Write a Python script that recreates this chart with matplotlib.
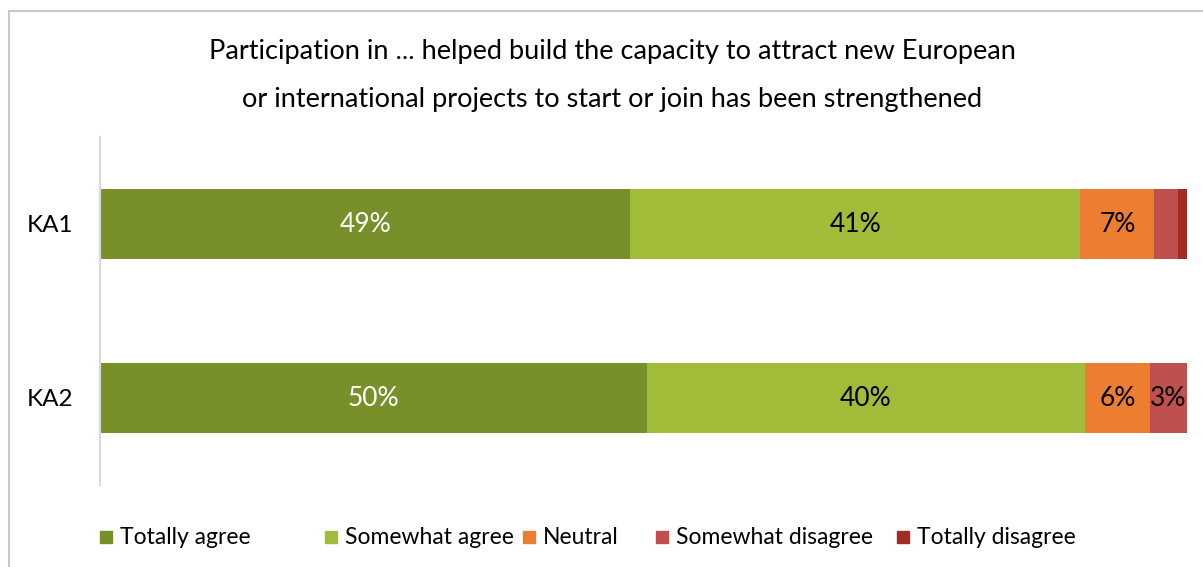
import matplotlib.pyplot as plt
from matplotlib.patches import Rectangle
import numpy as np

plt.rcParams['font.family'] = ['Lato', 'DejaVu Sans']

groups = ["KA1", "KA2"]
answers = ["Totally agree", "Somewhat agree", "Neutral",
           "Somewhat disagree", "Totally disagree"]
ka1 = [48.8, 41.4, 6.8, 2.2, 0.8]
ka2 = [50.3, 40.3, 6.0, 3.4, 0.0]
colors = ["#77902A", "#A0BC38", "#ED7D31", "#C0504D", "#A22B24"]

# left edge of each legend key, in pixels
key_x = [100, 325, 523, 656, 897]


def main():
    fig = plt.figure(figsize=(12.03, 5.67), dpi=100)
    W, H = 1203, 567
    ax = fig.add_axes([100 / W, 1 - 485 / H, 1087 / W, 348 / H])

    # chart frame, runs off the right and bottom edges
    fig.patches.append(Rectangle((9 / W, -0.1), 1.2, 1.1 - 11 / H,
                                 transform=fig.transFigure, fill=False,
                                 edgecolor="#C8C8C8", linewidth=1.5))

    data = np.array([ka1, ka2])
    y = np.arange(len(groups))
    left = np.zeros(len(groups))
    for j, name in enumerate(answers):
        vals = data[:, j]
        bars = ax.barh(y, vals, left=left, height=0.4, color=colors[j],
                       label=name)
        for k, b in enumerate(bars):
            v = vals[k]
            if round(v) >= 3:
                ax.text(left[k] + v / 2, y[k], f"{v:.0f}%",
                        ha="center", va="center", fontsize=19,
                        color="white" if j == 0 else "black")
        left += vals

    ax.set_xlim(0, 100)
    ax.set_ylim(1.5, -0.5)
    ax.set_yticks(y)
    ax.set_yticklabels(groups, fontsize=17.5)
    ax.tick_params(axis="y", length=0, pad=19.5)
    ax.set_xticks([])
    for s in ["top", "right", "bottom"]:
        ax.spines[s].set_visible(False)
    ax.spines["left"].set_color("#D9D9D9")
    ax.spines["left"].set_linewidth(1.5)

    fig.text(612 / W, 1 - 52 / H,
             "Participation in ... helped build the capacity to attract new European",
             ha="center", va="center", fontsize=19.5)
    fig.text(612 / W, 1 - 100 / H,
             "or international projects to start or join has been strengthened",
             ha="center", va="center", fontsize=19.5)

    # legend keys and labels
    for x0, name, c in zip(key_x, answers, colors):
        fig.patches.append(Rectangle((x0 / W, 1 - 543 / H), 12 / W, 12 / H,
                                     transform=fig.transFigure, color=c))
        fig.text((x0 + 20) / W, 1 - 537 / H, name, ha="left", va="center",
                 fontsize=16.5)

    fig.savefig("out.png", dpi=100)


if __name__ == "__main__":
    main()
